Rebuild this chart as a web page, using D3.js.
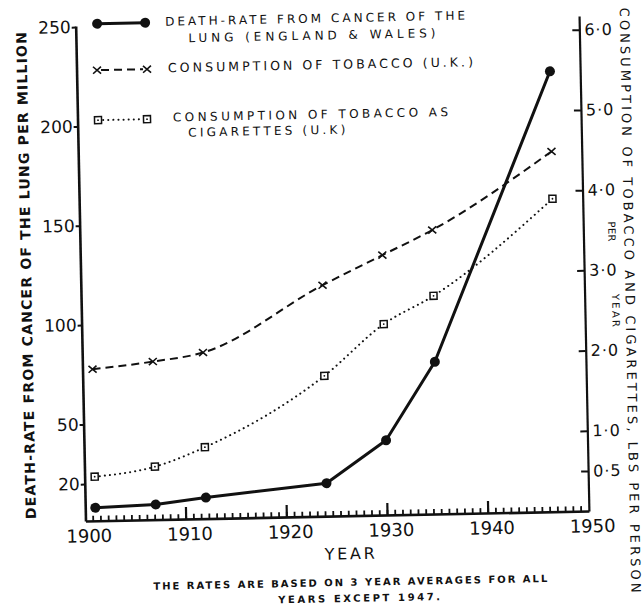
<!DOCTYPE html>
<html>
<head>
<meta charset="utf-8">
<title>Lung cancer and tobacco</title>
<script src="https://d3js.org/d3.v7.min.js"></script>
<style>
  body { margin: 0; background: #fff; }
  text { font-family: "DejaVu Sans", sans-serif; fill: #111; }
</style>
</head>
<body>
<svg width="643" height="607"></svg>
<script>
// values
const years = [1901, 1907, 1912, 1924, 1930, 1935, 1947];
const deathRate = [8, 9, 12, 18, 39, 78, 223];
const tobacco = [1.89, 1.97, 2.07, 2.88, 3.24, 3.54, 4.49];
const cigarettes = [0.55, 0.66, 0.89, 1.75, 2.38, 2.72, 3.90];
const xTicks = [1900, 1910, 1920, 1930, 1940, 1950];
const majorTicks = [1910, 1920, 1930, 1940];
const leftTicks = [20, 50, 100, 150, 200, 250];
const rightTicks = [0.5, 1, 2, 3, 4, 5, 6];
const legendDeath = ["DEATH-RATE FROM CANCER OF THE", "LUNG (ENGLAND & WALES)"];
const legendTobacco = ["CONSUMPTION OF TOBACCO (U.K.)"];
const legendCig = ["CONSUMPTION OF TOBACCO AS", "CIGARETTES (U.K)"];

const margin = {left: 85.5, top: 26};
const width = 503.5, height = 495;
const ink = "#111";

const svg = d3.select("svg");
// the scan is tilted slightly, so tilt the whole drawing the same way
const root = svg.append("g")
  .attr("transform", `rotate(-1.14, ${margin.left}, ${margin.top + height})`);
const g = root.append("g").attr("transform", `translate(${margin.left},${margin.top})`);

const x = d3.scaleLinear().domain([1900, 1950]).range([0, width]);
const yLeft = d3.scaleLinear().domain([1.4, 250.5]).range([height, 0]);
const yRight = d3.scaleLinear().domain([0, 6.17]).range([height, 0]);

function styleAxis(sel, size, w) {
  sel.select(".domain").attr("stroke", ink).attr("stroke-width", w);
  sel.selectAll(".tick line").attr("stroke", ink).attr("stroke-width", 2);
  sel.selectAll("text").attr("font-size", size).attr("fill", ink)
    .style("font-family", "'DejaVu Sans', sans-serif");
}

// left axis
g.append("g")
  .call(d3.axisLeft(yLeft).tickValues(leftTicks).tickSize(4).tickPadding(1).tickSizeOuter(0))
  .call(styleAxis, 17, 2.6);

// right axis, ticks pointing inwards
g.append("g")
  .attr("transform", `translate(${width},0)`)
  .call(d3.axisRight(yRight).tickValues(rightTicks).tickSize(-7).tickPadding(5).tickSizeOuter(0)
    .tickFormat(d => d3.format(".1f")(d).replace(".", "·")))
  .call(styleAxis, 16, 2.2)
  .selectAll(".tick text").attr("letter-spacing", 1);

// bottom axis: labels, then hand-drawn style ticks
const xAxis = g.append("g")
  .attr("transform", `translate(0,${height})`)
  .call(d3.axisBottom(x).tickValues(xTicks).tickFormat(d3.format("d")).tickSize(0).tickPadding(8.5).tickSizeOuter(0))
  .call(styleAxis, 18, 2.6);
xAxis.selectAll(".tick text").attr("dx", 3);

const minorTicks = d3.range(1, 65).map(i => 1900 + i * 10 / 13);
xAxis.selectAll(".minor").data(minorTicks).join("line")
  .attr("class", "minor")
  .attr("x1", d => x(d)).attr("x2", d => x(d))
  .attr("y1", 0).attr("y2", -5)
  .attr("stroke", ink).attr("stroke-width", 1.8);
xAxis.selectAll(".major").data(majorTicks).join("line")
  .attr("class", "major")
  .attr("x1", d => x(d)).attr("x2", d => x(d))
  .attr("y1", 0).attr("y2", -12)
  .attr("stroke", ink).attr("stroke-width", 2.2);

// series
const rows = years.map((yr, i) => ({year: yr, death: deathRate[i], tob: tobacco[i], cig: cigarettes[i]}));

const deathLine = d3.line().x(d => x(d.year)).y(d => yLeft(d.death));
const tobLine = d3.line().x(d => x(d.year)).y(d => yRight(d.tob)).curve(d3.curveMonotoneX);
const cigLine = d3.line().x(d => x(d.year)).y(d => yRight(d.cig)).curve(d3.curveMonotoneX);

g.append("path").datum(rows).attr("d", cigLine)
  .attr("fill", "none").attr("stroke", ink).attr("stroke-width", 2)
  .attr("stroke-linecap", "round").attr("stroke-dasharray", "0.1,5");
g.append("path").datum(rows).attr("d", tobLine)
  .attr("fill", "none").attr("stroke", ink).attr("stroke-width", 2)
  .attr("stroke-dasharray", "8,5");
g.append("path").datum(rows).attr("d", deathLine)
  .attr("fill", "none").attr("stroke", ink).attr("stroke-width", 3)
  .attr("stroke-linejoin", "round");

function crossMark(sel) {
  sel.append("path").attr("d", "M-4,-3.5L4,3.5M-4,3.5L4,-3.5")
    .attr("stroke", ink).attr("stroke-width", 1.6).attr("fill", "none");
}
function squareMark(sel) {
  sel.append("rect").attr("x", -3.5).attr("y", -3.5).attr("width", 7).attr("height", 7)
    .attr("fill", "#fff").attr("stroke", ink).attr("stroke-width", 1.5);
  sel.append("circle").attr("r", 0.9).attr("fill", ink);
}

g.selectAll(".cig").data(rows).join("g").attr("class", "cig")
  .attr("transform", d => `translate(${x(d.year)},${yRight(d.cig)})`)
  .call(squareMark);
g.selectAll(".tob").data(rows).join("g").attr("class", "tob")
  .attr("transform", d => `translate(${x(d.year)},${yRight(d.tob)})`)
  .call(crossMark);
g.selectAll(".death").data(rows).join("circle").attr("class", "death")
  .attr("cx", d => x(d.year)).attr("cy", d => yLeft(d.death))
  .attr("r", 5).attr("fill", ink);

// legend
const leg = root.append("g");
leg.append("line").attr("x1", 107).attr("x2", 155).attr("y1", 24).attr("y2", 24)
  .attr("stroke", ink).attr("stroke-width", 3);
leg.selectAll(".ld").data([107, 155]).join("circle").attr("class", "ld")
  .attr("cx", d => d).attr("cy", 24).attr("r", 5).attr("fill", ink);

leg.append("line").attr("x1", 110).attr("x2", 152).attr("y1", 70.5).attr("y2", 70.5)
  .attr("stroke", ink).attr("stroke-width", 2).attr("stroke-dasharray", "8,5");
leg.selectAll(".lt").data([106, 156]).join("g").attr("class", "lt")
  .attr("transform", d => `translate(${d},70.5)`).call(crossMark);

leg.append("line").attr("x1", 106).attr("x2", 155).attr("y1", 120.5).attr("y2", 120.5)
  .attr("stroke", ink).attr("stroke-width", 2).attr("stroke-linecap", "round")
  .attr("stroke-dasharray", "0.1,5");
leg.selectAll(".lc").data([106, 155]).join("g").attr("class", "lc")
  .attr("transform", d => `translate(${d},120.5)`).call(squareMark);

function label(parent, txt, cx, cy, size, len, opts = {}) {
  const t = parent.append("text")
    .attr("x", cx).attr("y", cy).attr("dy", "0.36em")
    .attr("font-size", size)
    .attr("text-anchor", opts.anchor || "start")
    .attr("textLength", len).attr("lengthAdjust", "spacing")
    .attr("font-weight", opts.bold ? "bold" : "normal")
    .text(txt);
  if (opts.rotate) t.attr("transform", `rotate(${opts.rotate},${cx},${cy})`);
  return t;
}

label(leg, legendDeath[0], 175, 23, 12, 300);
label(leg, legendDeath[1], 198, 40, 12, 247);
label(leg, legendTobacco[0], 177, 69.5, 12.5, 305);
label(leg, legendCig[0], 181, 119, 12, 275);
label(leg, legendCig[1], 196, 134.5, 12, 157);

// axis titles
label(root, "DEATH-RATE FROM CANCER OF THE LUNG PER MILLION", 31, 274.5, 14, 487,
  {anchor: "middle", bold: true, rotate: -90});
label(root, "CONSUMPTION OF TOBACCO AND CIGARETTES, LBS PER PERSON", 634.5, 311, 13, 585,
  {anchor: "middle", rotate: 90});
label(root, "PER", 617.5, 242, 10, 20, {anchor: "middle", rotate: 90});
label(root, "YEAR", 620, 321, 10, 33, {anchor: "middle", rotate: 90});
label(root, "YEAR", 349, 558.7, 16, 50, {anchor: "middle"});

// footnote
label(root, "THE RATES ARE BASED ON 3 YEAR AVERAGES FOR ALL", 349, 587.5, 10, 394,
  {anchor: "middle", bold: true});
label(root, "YEARS EXCEPT 1947.", 357.5, 603.5, 10, 162, {anchor: "middle", bold: true});
</script>
</body>
</html>
